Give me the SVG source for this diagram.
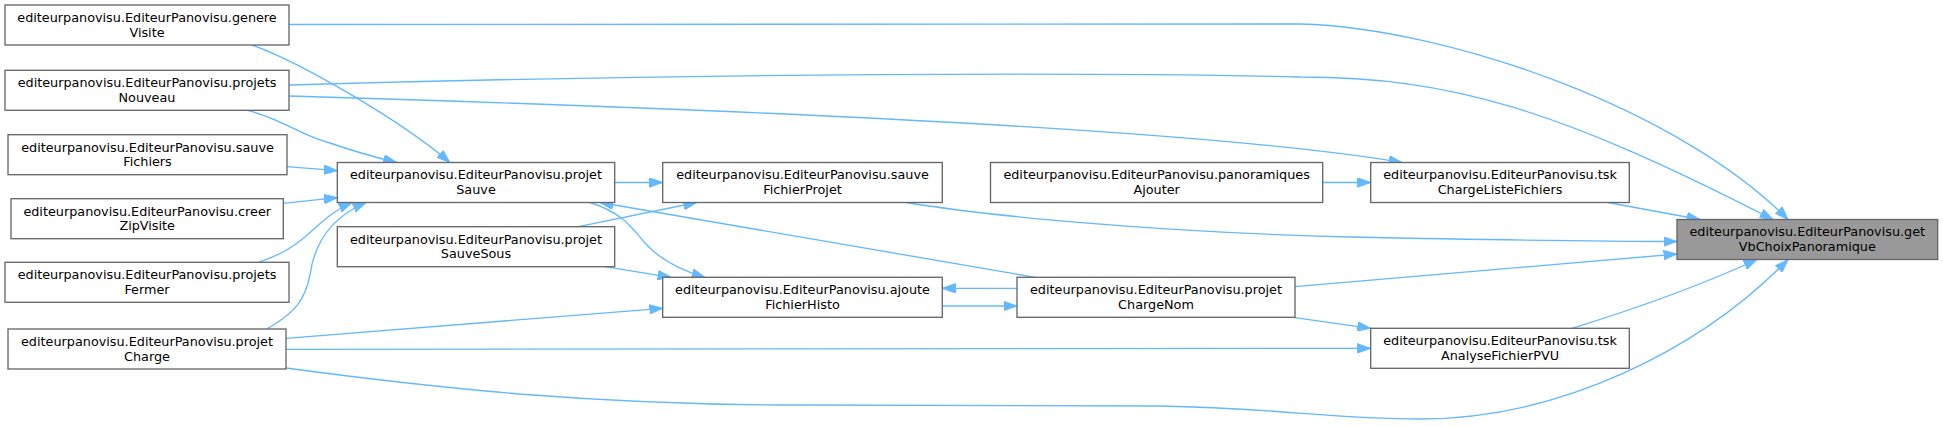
<svg xmlns="http://www.w3.org/2000/svg" width="1943" height="427" viewBox="0 0 1943 427">
<style>
.n rect{fill:#ffffff;stroke:#666666;stroke-width:1.33}
.n.hl rect{fill:#999999}
.n text{font-family:"DejaVu Sans","Liberation Sans",sans-serif;font-size:12.8px;text-anchor:middle;fill:#000000}
.e path{fill:none;stroke:#63b8ff;stroke-width:1.33;marker-end:url(#ah)}
</style>
<defs>
<marker id="ah" markerUnits="userSpaceOnUse" markerWidth="14" markerHeight="10" viewBox="0 0 14 10" refX="13.3" refY="5" orient="auto">
<path d="M0,0.3 L13.3,5 L0,9.7 z" fill="#63b8ff" stroke="#63b8ff" stroke-width="1"/>
</marker>
</defs>
<rect width="1943" height="427" fill="#ffffff"/>
<g id="edges" class="e">
<path d="M289,24.5 L1300,24 C1450,28 1680,110 1788,219.5"/>
<path d="M289,85 C700,73 1100,72 1300,77 C1450,77 1560,110 1773,219.5"/>
<path d="M289,96 C700,108 1200,128 1402,162.5"/>
<path d="M1322.7,182.5 L1370.7,182.5"/>
<path d="M1608,202.5 L1700,219.5"/>
<path d="M906,202.5 C990,216 1150,232 1350,237 C1500,240 1600,241.5 1677,241.5"/>
<path d="M1295,286.7 L1677,254"/>
<path d="M1572,328.3 Q1680,295 1757,259.5"/>
<path d="M286,368 C450,390 600,405 800,405 L1160,406 C1280,408 1330,419 1420,419 C1560,419 1700,350 1788,259.5"/>
<path d="M286,349.3 L1370.7,348.3"/>
<path d="M286,338.3 L662.7,308.3"/>
<path d="M266.7,329 C295,313 305,300 310,275 C314,245 330,218 366,202.5"/>
<path d="M258.3,262.3 C280,255 292,248 305,237 C318,226 330,212 352,202.5"/>
<path d="M283.3,203.3 L337.3,197.7"/>
<path d="M286.7,166.7 L337.3,170.7"/>
<path d="M248.3,110.7 C280,118 300,135 330,143 C350,150 370,156 396.7,162.5"/>
<path d="M252,45 C300,62 400,120 450,162.5"/>
<path d="M614.7,182.5 L662.7,182.5"/>
<path d="M590,202.5 C620,212 630,225 645,243 C660,260 680,270 705,277.3"/>
<path d="M1035,277.3 L600,202.5"/>
<path d="M578.3,226.7 L696.7,202.5"/>
<path d="M605,266.7 L671,277.3"/>
<path d="M942.3,306 L1017,306"/>
<path d="M1017,288.3 L942.3,288.3"/>
<path d="M1293,317.3 L1370.7,328.3"/>
</g>
<g id="genereVisite" class="n"><rect x="5" y="5" width="284" height="40"/><text x="147" y="21.9">editeurpanovisu.EditeurPanovisu.genere</text><text x="147" y="36.5">Visite</text></g>
<g id="projetsNouveau" class="n"><rect x="5" y="70.3" width="284" height="40"/><text x="147" y="87.2">editeurpanovisu.EditeurPanovisu.projets</text><text x="147" y="101.8">Nouveau</text></g>
<g id="sauveFichiers" class="n"><rect x="8" y="134.7" width="279" height="40"/><text x="147.5" y="151.6">editeurpanovisu.EditeurPanovisu.sauve</text><text x="147.5" y="166.2">Fichiers</text></g>
<g id="creerZipVisite" class="n"><rect x="11" y="198.7" width="272.3" height="40"/><text x="147.2" y="215.6">editeurpanovisu.EditeurPanovisu.creer</text><text x="147.2" y="230.2">ZipVisite</text></g>
<g id="projetsFermer" class="n"><rect x="5" y="262.3" width="284" height="40"/><text x="147" y="279.2">editeurpanovisu.EditeurPanovisu.projets</text><text x="147" y="293.8">Fermer</text></g>
<g id="projetCharge" class="n"><rect x="8" y="329" width="278" height="40"/><text x="147" y="345.9">editeurpanovisu.EditeurPanovisu.projet</text><text x="147" y="360.5">Charge</text></g>
<g id="projetSauve" class="n"><rect x="337.3" y="162.5" width="277.4" height="40"/><text x="476" y="179.4">editeurpanovisu.EditeurPanovisu.projet</text><text x="476" y="194">Sauve</text></g>
<g id="projetSauveSous" class="n"><rect x="337.3" y="226.7" width="277.4" height="40"/><text x="476" y="243.6">editeurpanovisu.EditeurPanovisu.projet</text><text x="476" y="258.2">SauveSous</text></g>
<g id="sauveFichierProjet" class="n"><rect x="662.7" y="162.5" width="279.6" height="40"/><text x="802.5" y="179.4">editeurpanovisu.EditeurPanovisu.sauve</text><text x="802.5" y="194">FichierProjet</text></g>
<g id="ajouteFichierHisto" class="n"><rect x="662.7" y="277.3" width="279.6" height="40"/><text x="802.5" y="294.2">editeurpanovisu.EditeurPanovisu.ajoute</text><text x="802.5" y="308.8">FichierHisto</text></g>
<g id="panoramiquesAjouter" class="n"><rect x="990.5" y="162.5" width="332.2" height="40"/><text x="1156.6" y="179.4">editeurpanovisu.EditeurPanovisu.panoramiques</text><text x="1156.6" y="194">Ajouter</text></g>
<g id="projetChargeNom" class="n"><rect x="1017" y="277.3" width="278" height="40"/><text x="1156" y="294.2">editeurpanovisu.EditeurPanovisu.projet</text><text x="1156" y="308.8">ChargeNom</text></g>
<g id="tskChargeListeFichiers" class="n"><rect x="1370.7" y="162.5" width="258.6" height="40"/><text x="1500" y="179.4">editeurpanovisu.EditeurPanovisu.tsk</text><text x="1500" y="194">ChargeListeFichiers</text></g>
<g id="tskAnalyseFichierPVU" class="n"><rect x="1370.7" y="328.3" width="258.6" height="40"/><text x="1500" y="345.2">editeurpanovisu.EditeurPanovisu.tsk</text><text x="1500" y="359.8">AnalyseFichierPVU</text></g>
<g id="getVbChoixPanoramique" class="n hl"><rect x="1677" y="219.5" width="260.7" height="40"/><text x="1807.3" y="236.4">editeurpanovisu.EditeurPanovisu.get</text><text x="1807.3" y="251">VbChoixPanoramique</text></g>
</svg>
